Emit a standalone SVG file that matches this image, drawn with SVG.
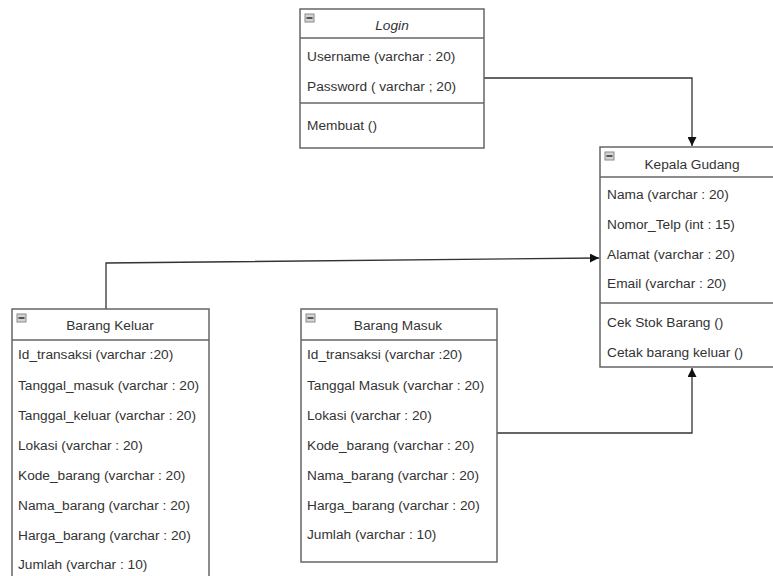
<svg xmlns="http://www.w3.org/2000/svg" width="773" height="576" viewBox="0 0 773 576">
<defs>
<marker id="arr" viewBox="0 0 10 10" refX="10" refY="5" markerWidth="9" markerHeight="9" markerUnits="userSpaceOnUse" orient="auto">
<path d="M0,0 L10,5 L0,10 Z" fill="#111"/>
</marker>
<g id="icon">
<rect x="0" y="0" width="9" height="8" fill="#d4d4d4" stroke="#8a8a8a" stroke-width="1"/>
<rect x="1.5" y="3" width="6" height="2" fill="#555"/>
</g>
</defs>
<style>
.box{fill:#fff;stroke:#666;stroke-width:1.5}
.div{stroke:#666;stroke-width:1.5;fill:none}
.t{font-family:"Liberation Sans",Arial,sans-serif;font-size:13.7px;fill:#333}
.h{text-anchor:middle}
.conn{fill:none;stroke:#333;stroke-width:1.3}
</style>
<rect width="773" height="576" fill="#fff"/>

<g id="connectors">
<polyline class="conn" points="484,78 692,78 692,146" marker-end="url(#arr)"/>
<polyline class="conn" points="106,309 106,263 599,258" marker-end="url(#arr)"/>
<polyline class="conn" points="497,433 692,433 692,368" marker-end="url(#arr)"/>
</g>

<g id="login">
<rect class="box" x="300" y="9" width="184" height="139"/>
<line class="div" x1="300" y1="38" x2="484" y2="38"/>
<line class="div" x1="300" y1="103" x2="484" y2="103"/>
<use href="#icon" x="305" y="14"/>
<text class="t h" x="392" y="30" font-style="italic">Login</text>
<text class="t" x="307" y="61">Username (varchar : 20)</text>
<text class="t" x="307" y="91">Password ( varchar ; 20)</text>
<text class="t" x="307" y="130">Membuat ()</text>
</g>

<g id="kepala-gudang">
<rect class="box" x="600" y="147" width="184" height="220"/>
<line class="div" x1="600" y1="177" x2="784" y2="177"/>
<line class="div" x1="600" y1="303" x2="784" y2="303"/>
<use href="#icon" x="605" y="152"/>
<text class="t h" x="692" y="169">Kepala Gudang</text>
<text class="t" x="607" y="199">Nama (varchar : 20)</text>
<text class="t" x="607" y="229">Nomor_Telp (int : 15)</text>
<text class="t" x="607" y="259">Alamat (varchar : 20)</text>
<text class="t" x="607" y="288">Email (varchar : 20)</text>
<text class="t" x="607" y="327">Cek Stok Barang ()</text>
<text class="t" x="607" y="357">Cetak barang keluar ()</text>
</g>

<g id="barang-keluar">
<rect class="box" x="12" y="309" width="197" height="290"/>
<line class="div" x1="12" y1="340" x2="209" y2="340"/>
<use href="#icon" x="17" y="314"/>
<text class="t h" x="110" y="330">Barang Keluar</text>
<text class="t" x="18" y="359">Id_transaksi (varchar :20)</text>
<text class="t" x="18" y="390">Tanggal_masuk (varchar : 20)</text>
<text class="t" x="18" y="420">Tanggal_keluar (varchar : 20)</text>
<text class="t" x="18" y="450">Lokasi (varchar : 20)</text>
<text class="t" x="18" y="480">Kode_barang (varchar : 20)</text>
<text class="t" x="18" y="510">Nama_barang (varchar : 20)</text>
<text class="t" x="18" y="540">Harga_barang (varchar : 20)</text>
<text class="t" x="18" y="569">Jumlah (varchar : 10)</text>
</g>

<g id="barang-masuk">
<rect class="box" x="301" y="309" width="196" height="253"/>
<line class="div" x1="301" y1="340" x2="497" y2="340"/>
<use href="#icon" x="306" y="314"/>
<text class="t h" x="398" y="330">Barang Masuk</text>
<text class="t" x="307" y="359">Id_transaksi (varchar :20)</text>
<text class="t" x="307" y="390">Tanggal Masuk (varchar : 20)</text>
<text class="t" x="307" y="420">Lokasi (varchar : 20)</text>
<text class="t" x="307" y="450">Kode_barang (varchar : 20)</text>
<text class="t" x="307" y="480">Nama_barang (varchar : 20)</text>
<text class="t" x="307" y="510">Harga_barang (varchar : 20)</text>
<text class="t" x="307" y="539">Jumlah (varchar : 10)</text>
</g>
</svg>
